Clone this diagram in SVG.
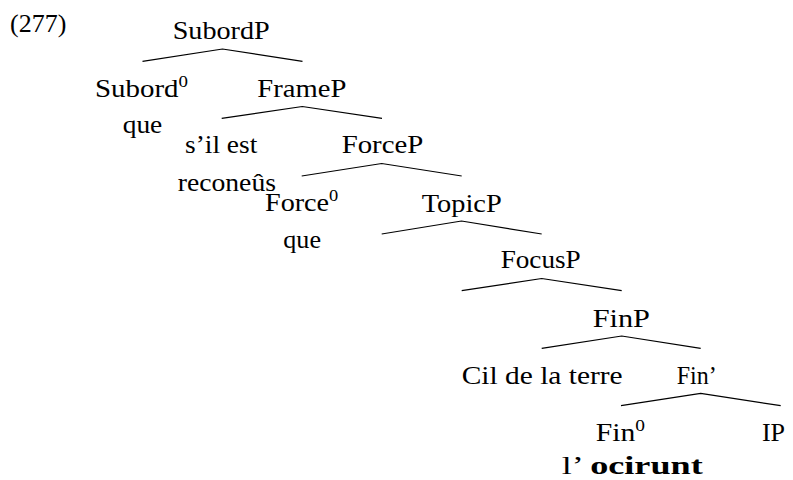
<svg xmlns="http://www.w3.org/2000/svg" width="793" height="480" viewBox="0 0 793 480" font-family="Liberation Serif">
  <style>
    .lbl { font-family: 'Liberation Serif', serif; font-size: 26px; fill: #000; }
    .sup { font-size: 17px; }
    .b { font-weight: bold; }
    .edge { stroke: #000; stroke-width: 1.2; fill: none; }
  </style>
  <rect width="793" height="480" fill="#fff"/>

  <!-- example number -->
  <text class="lbl" x="10" y="32">(277)</text>

  <!-- tree branches -->
  <g id="connectors">
    <polyline class="edge" points="142.5,61.3 222.5,49 302.5,61.3"/>
    <polyline class="edge" points="221.7,118.3 302.3,106.5 382,118.3"/>
    <polyline class="edge" points="301.7,176 381.7,163.5 461.7,176"/>
    <polyline class="edge" points="381.7,234 461.5,221 541.7,234"/>
    <polyline class="edge" points="461.7,290.7 541.7,278.5 621.7,290.7"/>
    <polyline class="edge" points="541.7,348.3 621.7,336 700.7,348.3"/>
    <polyline class="edge" points="621,405.7 700.7,393.3 780.7,405.7"/>
  </g>

  <g id="subordp"><text class="lbl" x="172.7" y="38.5" textLength="97" lengthAdjust="spacingAndGlyphs">SubordP</text></g>
  <g id="subord0"><text class="lbl" x="95" y="97" textLength="93" lengthAdjust="spacingAndGlyphs">Subord<tspan class="sup" dy="-10">0</tspan></text></g>
  <g id="subord-que"><text class="lbl" x="122.7" y="133" textLength="39.6" lengthAdjust="spacingAndGlyphs">que</text></g>
  <g id="framep"><text class="lbl" x="257.3" y="97" textLength="89" lengthAdjust="spacingAndGlyphs">FrameP</text></g>
  <g id="frame-spec">
    <text class="lbl" x="185" y="152.7" textLength="72.3" lengthAdjust="spacingAndGlyphs">s&#8217;il est</text>
    <text class="lbl" x="177.7" y="190.7" textLength="98.3" lengthAdjust="spacingAndGlyphs">recone&#251;s</text>
  </g>
  <g id="forcep"><text class="lbl" x="341.7" y="153.3" textLength="81.6" lengthAdjust="spacingAndGlyphs">ForceP</text></g>
  <g id="force0"><text class="lbl" x="265" y="210.7" textLength="73.3" lengthAdjust="spacingAndGlyphs">Force<tspan class="sup" dy="-10">0</tspan></text></g>
  <g id="force-que"><text class="lbl" x="283.3" y="248.3" textLength="37.7" lengthAdjust="spacingAndGlyphs">que</text></g>
  <g id="topicp"><text class="lbl" x="421.7" y="211.5" textLength="80" lengthAdjust="spacingAndGlyphs">TopicP</text></g>
  <g id="focusp"><text class="lbl" x="500.7" y="267.5" textLength="80" lengthAdjust="spacingAndGlyphs">FocusP</text></g>
  <g id="finp"><text class="lbl" x="592.7" y="326.7" textLength="57.3" lengthAdjust="spacingAndGlyphs">FinP</text></g>
  <g id="fin-spec"><text class="lbl" x="461.7" y="384" textLength="161" lengthAdjust="spacingAndGlyphs">Cil de la terre</text></g>
  <g id="finbar"><text class="lbl" x="676.7" y="384" textLength="40" lengthAdjust="spacingAndGlyphs">Fin&#8217;</text></g>
  <g id="fin0"><text class="lbl" x="595.7" y="440.7" textLength="49.3" lengthAdjust="spacingAndGlyphs">Fin<tspan class="sup" dy="-10">0</tspan></text></g>
  <g id="ip"><text class="lbl" x="773.5" y="440.7" text-anchor="middle">IP</text></g>
  <g id="fin-head"><text class="lbl" x="561.7" y="474" textLength="141" lengthAdjust="spacingAndGlyphs">l&#8217; <tspan class="b">ocirunt</tspan></text></g>
</svg>
